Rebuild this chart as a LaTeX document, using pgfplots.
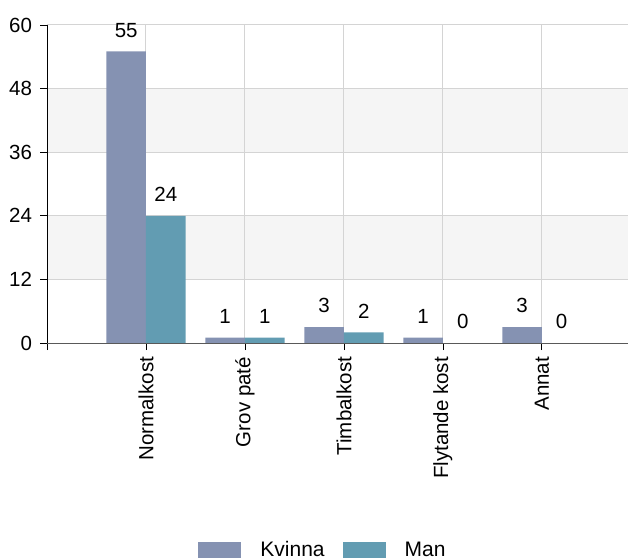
\documentclass[border=0pt]{standalone}
\usepackage{pgfplots}
\pgfplotsset{compat=1.18}
\usepackage{fontspec}
\setmainfont{Liberation Sans}
\definecolor{kv}{HTML}{8592B2}
\definecolor{mn}{HTML}{629CB2}
\definecolor{gridc}{HTML}{D4D4D4}
\definecolor{band}{HTML}{F5F5F5}
\begin{document}
\fontsize{20.5bp}{24bp}\selectfont
\begin{tikzpicture}
\pgfplotsset{set layers}
\begin{axis}[name=ax, scale only axis, width=581bp, height=318bp,
  xmin=0, xmax=5.87, ymin=0, ymax=60,
  ytick={0,12,...,60},
  xtick={0,1,2,3,4,5},
  xticklabels={,Normalkost,Grov paté,Timbalkost,Flytande kost,Annat},
  axis lines=left, axis line style={-},
  x axis line style={draw=black!65, line width=1bp},
  y axis line style={draw=black, line width=1bp},
  ymajorgrids, xmajorgrids, grid style={gridc, line width=1bp},
  tick align=outside, major tick length=7bp,
  tick style={black, line width=0.8bp},
  /pgf/number format/assume math mode=true,
  tick label style={font=\fontsize{20.5bp}{24bp}\selectfont},
  xticklabel style={rotate=90, anchor=east, yshift=0bp},
  yticklabel style={xshift=-1bp},
  ybar, bar width=0.4,
  nodes near coords,
  every node near coord/.append style={font=\fontsize{20.5bp}{24bp}\selectfont, black, yshift=7bp},
  legend style={at={(0.475,0)}, anchor=north, yshift=-196bp, draw=none, inner sep=0pt,
    font=\fontsize{21bp}{24bp}\selectfont, legend columns=2,
    /tikz/every odd column/.append style={column sep=17bp},
    /tikz/every even column/.append style={column sep=16bp}},
  legend image code/.code={\fill[#1] (0bp,-8.5bp) rectangle (43bp,8.5bp);},
]
\begin{pgfonlayer}{axis background}
\fill[band] (axis cs:0,12) rectangle (axis cs:5.87,24);
\fill[band] (axis cs:0,36) rectangle (axis cs:5.87,48);
\end{pgfonlayer}
\addplot[fill=kv, draw=none, bar shift=0pt] coordinates {(0.8,55) (1.8,1) (2.8,3) (3.8,1) (4.8,3)};
\addplot[fill=mn, draw=none, bar shift=0pt] coordinates {(1.2,24) (2.2,1) (3.2,2) (4.2,0) (5.2,0)};
\legend{Kvinna, Man}
\end{axis}
\pgfresetboundingbox
\path ([shift={(-47bp,-215bp)}]ax.south west) rectangle ([shift={(2bp,25bp)}]ax.north east);
\end{tikzpicture}
\end{document}
